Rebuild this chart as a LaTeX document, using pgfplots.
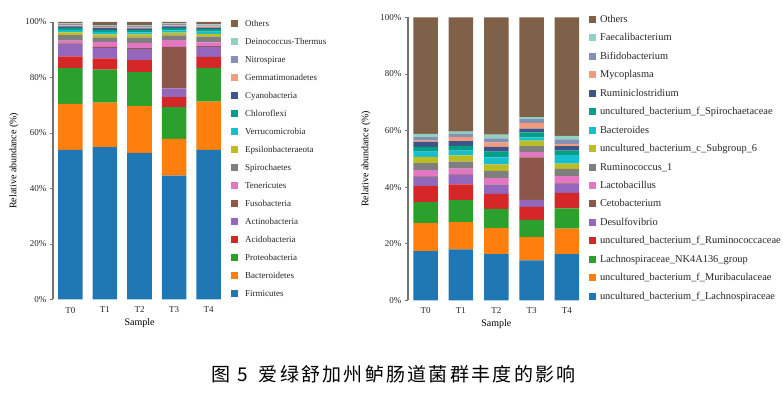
\documentclass[border=0pt]{standalone}
\usepackage{pgfplots}
\pgfplotsset{compat=1.18}
\usepackage{pgfplotstable}
\usepackage{fontspec}
\setmainfont{Liberation Serif}
\newfontfamily\cjk[LetterSpace=12]{Noto Sans CJK SC}

\definecolor{c1}{HTML}{1F77B4}
\definecolor{c2}{HTML}{FF7F0E}
\definecolor{c3}{HTML}{2CA02C}
\definecolor{c4}{HTML}{D62728}
\definecolor{c5}{HTML}{9467BD}
\definecolor{c6}{HTML}{8C564B}
\definecolor{c7}{HTML}{E377C2}
\definecolor{c8}{HTML}{7F7F7F}
\definecolor{c9}{HTML}{BCBD22}
\definecolor{c10}{HTML}{17BECF}
\definecolor{c11}{HTML}{00A087}
\definecolor{c12}{HTML}{3C5488}
\definecolor{c13}{HTML}{F39B7F}
\definecolor{c14}{HTML}{8491B4}
\definecolor{c15}{HTML}{91D1C2}
\definecolor{c16}{HTML}{7E6148}

% phylum level (left)
\pgfplotstableread{
x a b c d e f g h i j k l m n o p
0 53.9 16.6 12.9 4.2 4.4 0.3 1.0 2.0 1.0 0.8 0.8 0.5 0.4 0.4 0.3 0.5
1 54.9 16.0 11.9 4.1 3.8 0.3 1.8 1.7 1.0 0.9 0.8 0.6 0.4 0.4 0.3 1.1
2 52.8 16.9 12.2 4.4 3.9 0.4 1.9 2.0 1.0 0.8 0.8 0.6 0.4 0.4 0.3 1.2
3 44.6 13.3 11.4 3.6 3.2 14.9 2.5 1.7 1.0 0.8 0.8 0.6 0.4 0.4 0.3 0.5
4 53.9 17.4 12.2 3.9 3.6 0.3 1.4 2.0 1.0 0.8 0.9 0.6 0.4 0.4 0.3 0.9
}\phylum

% genus level (right)
\pgfplotstableread{
x a b c d e f g h i j k l m n o p
0 17.4 9.9 7.4 5.6 3.3 0.2 2.2 2.5 2.2 1.8 1.7 1.8 0.4 1.3 1.1 41.2
1 18.0 9.6 7.8 5.6 3.3 0.2 2.0 2.5 2.2 1.7 1.7 1.6 1.5 1.1 0.8 40.4
2 16.3 9.2 6.8 5.3 3.1 0.2 2.3 2.5 2.3 2.5 2.0 1.7 1.6 1.4 1.3 41.5
3 14.1 8.2 6.1 4.6 2.5 15.0 1.9 2.1 1.9 1.2 1.7 1.4 2.0 1.3 0.7 35.3
4 16.3 9.0 7.2 5.5 3.1 0.2 2.6 2.5 1.9 3.0 1.6 1.6 0.7 1.7 1.2 41.9
}\genus

\pgfplotsset{
  stackbars/.style={
    scale only axis,
    ybar stacked, bar width=24.5pt,
    xmin=-0.5, xmax=4.5, ymin=0, ymax=100,
    xtick={0,...,4}, xticklabels={T0,T1,T2,T3,T4},
    ytick={0,20,...,100}, yticklabels={0\%,20\%,40\%,60\%,80\%,100\%},
    axis lines*=left,
    x axis line style={draw=none},
    y axis line style={draw=black!55, line width=1.2pt, -},
    xtick style={draw=none},
    ytick style={draw=black!55, line width=0.6pt},
    tick align=outside, major tick length=3pt,
    tick label style={font=\fontsize{9}{10}\selectfont, text=black!85},
    xticklabel style={yshift=-1pt},
    xlabel={Sample}, ylabel={Relative abundance (\%)},
    label style={font=\fontsize{9.5}{11}\selectfont, text=black!85},
    every axis x label/.style={at={(axis description cs:0.5,-0.085)}, anchor=center},
    every axis plot/.append style={draw=none},
    legend cell align=left, reverse legend,
    legend style={draw=none, fill=none, anchor=north west, inner sep=0pt, outer sep=0pt,
      text=black!85, column sep=0pt,
      nodes={inner sep=0pt, text height=6.5pt, text depth=2pt}},
  },
}

\begin{document}
\begin{tikzpicture}
\useasboundingbox (0,0) rectangle (783pt,398pt);

\begin{axis}[stackbars,
  at={(53pt,98.5pt)}, anchor=south west, width=173pt, height=277.5pt,
  every axis y label/.style={at={(axis description cs:-0.225,0.5)}, rotate=90, anchor=center},
  legend image code/.code={\fill[#1, draw=none] (0pt,-2.75pt) rectangle (6.5pt,4.25pt); \path (14pt,0pt);},
  legend style={at={(axis description cs:1.029,1.006)}, row sep=9.5pt, font=\fontsize{9}{10}\selectfont},
  legend entries={Firmicutes,Bacteroidetes,Proteobacteria,Acidobacteria,Actinobacteria,Fusobacteria,Tenericutes,Spirochaetes,Epsilonbacteraeota,Verrucomicrobia,Chloroflexi,Cyanobacteria,Gemmatimonadetes,Nitrospirae,Deinococcus-Thermus,Others},
]
\addplot[fill=c1] table[x=x,y=a]{\phylum};
\addplot[fill=c2] table[x=x,y=b]{\phylum};
\addplot[fill=c3] table[x=x,y=c]{\phylum};
\addplot[fill=c4] table[x=x,y=d]{\phylum};
\addplot[fill=c5] table[x=x,y=e]{\phylum};
\addplot[fill=c6] table[x=x,y=f]{\phylum};
\addplot[fill=c7] table[x=x,y=g]{\phylum};
\addplot[fill=c8] table[x=x,y=h]{\phylum};
\addplot[fill=c9] table[x=x,y=i]{\phylum};
\addplot[fill=c10] table[x=x,y=j]{\phylum};
\addplot[fill=c11] table[x=x,y=k]{\phylum};
\addplot[fill=c12] table[x=x,y=l]{\phylum};
\addplot[fill=c13] table[x=x,y=m]{\phylum};
\addplot[fill=c14] table[x=x,y=n]{\phylum};
\addplot[fill=c15] table[x=x,y=o]{\phylum};
\addplot[fill=c16] table[x=x,y=p]{\phylum};
\end{axis}

\begin{axis}[stackbars,
  at={(408pt,97.7pt)}, anchor=south west, width=176.5pt, height=283pt,
  every axis y label/.style={at={(axis description cs:-0.238,0.5)}, rotate=90, anchor=center},
  legend image code/.code={\fill[#1, draw=none] (0pt,-2.75pt) rectangle (6.5pt,4.25pt); \path (11pt,0pt);},
  legend style={at={(axis description cs:1.0255,1.0055)}, row sep=9.97pt, font=\fontsize{10.4}{11}\selectfont},
  legend entries={uncultured\_bacterium\_f\_Lachnospiraceae,uncultured\_bacterium\_f\_Muribaculaceae,Lachnospiraceae\_NK4A136\_group,uncultured\_bacterium\_f\_Ruminococcaceae,Desulfovibrio,Cetobacterium,Lactobacillus,Ruminococcus\_1,uncultured\_bacterium\_c\_Subgroup\_6,Bacteroides,uncultured\_bacterium\_f\_Spirochaetaceae,Ruminiclostridium,Mycoplasma,Bifidobacterium,Faecalibacterium,Others},
]
\addplot[fill=c1] table[x=x,y=a]{\genus};
\addplot[fill=c2] table[x=x,y=b]{\genus};
\addplot[fill=c3] table[x=x,y=c]{\genus};
\addplot[fill=c4] table[x=x,y=d]{\genus};
\addplot[fill=c5] table[x=x,y=e]{\genus};
\addplot[fill=c6] table[x=x,y=f]{\genus};
\addplot[fill=c7] table[x=x,y=g]{\genus};
\addplot[fill=c8] table[x=x,y=h]{\genus};
\addplot[fill=c9] table[x=x,y=i]{\genus};
\addplot[fill=c10] table[x=x,y=j]{\genus};
\addplot[fill=c11] table[x=x,y=k]{\genus};
\addplot[fill=c12] table[x=x,y=l]{\genus};
\addplot[fill=c13] table[x=x,y=m]{\genus};
\addplot[fill=c14] table[x=x,y=n]{\genus};
\addplot[fill=c15] table[x=x,y=o]{\genus};
\addplot[fill=c16] table[x=x,y=p]{\genus};
\end{axis}

\node[font=\cjk\fontsize{19}{21}\selectfont, anchor=west, inner sep=0pt] at (211pt,24pt) {图\hspace{7pt}5\hspace{11pt}爱绿舒加州鲈肠道菌群丰度的影响};
\end{tikzpicture}
\end{document}
